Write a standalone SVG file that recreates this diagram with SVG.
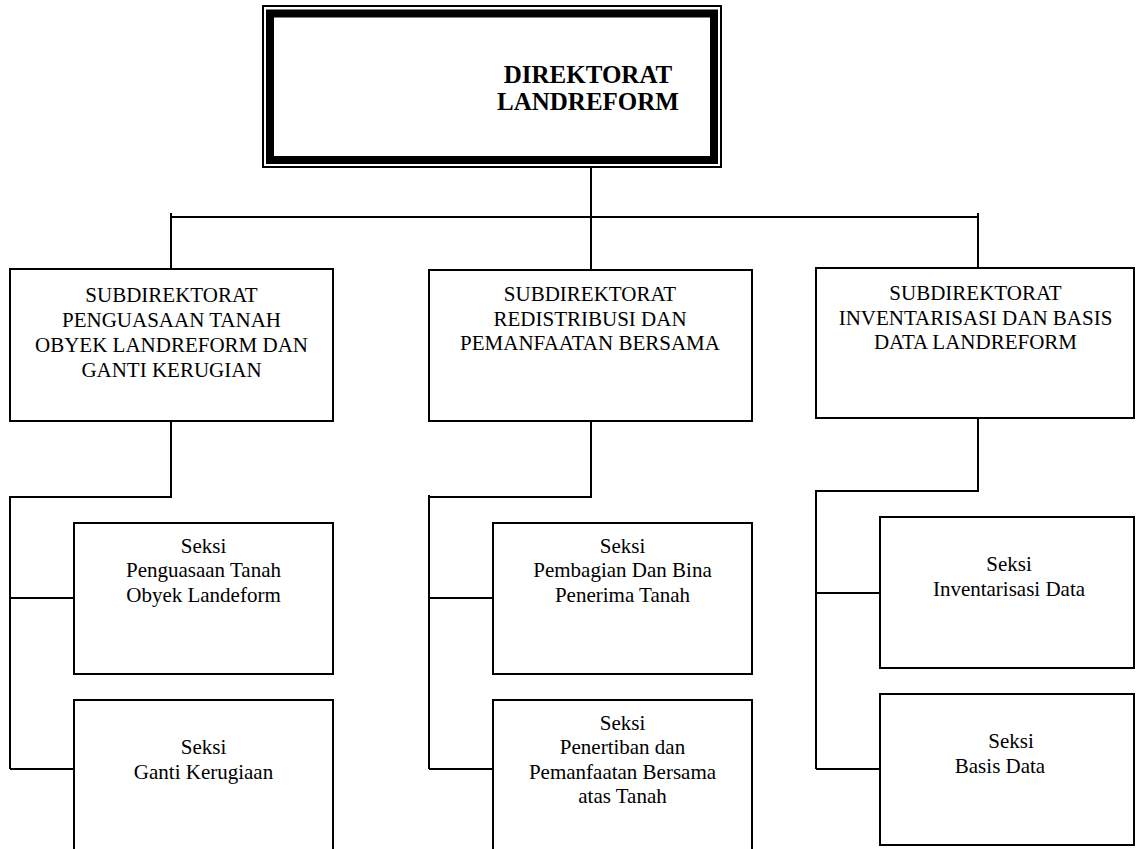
<svg xmlns="http://www.w3.org/2000/svg" width="1138" height="849" viewBox="0 0 1138 849">
<style>
.box{fill:#fff;stroke:#000;stroke-width:2}
.ln{fill:none;stroke:#000;stroke-width:2}
.t{font-family:"Liberation Serif","Times New Roman",serif;font-size:21px;fill:#000;text-anchor:middle}
.tb{font-family:"Liberation Serif","Times New Roman",serif;font-size:25px;font-weight:bold;fill:#000;text-anchor:middle}
</style>
<rect width="1138" height="849" fill="#fff"/>
<g id="connectors">
<path class="ln" d="M591 167 V270"/>
<path class="ln" d="M171 217 H978 M171 213 V269 M978 213 V268"/>
<path class="ln" d="M171 421 V497 H10 V769 M10 598 H74 M10 769 H74"/>
<path class="ln" d="M591 421 V497 H429 M429 495 V769 M429 598 H493 M429 769 H493"/>
<path class="ln" d="M978 418 V491 H816 V769 M816 593 H880 M816 769 H880"/>
</g>
<g id="direktorat">
<rect x="263" y="6" width="458" height="161" fill="#fff" stroke="#000" stroke-width="2"/>
<rect x="270" y="13.5" width="444" height="146.5" fill="#fff" stroke="#000" stroke-width="8"/>
<text class="tb" x="588" y="83">DIREKTORAT</text>
<text class="tb" x="588" y="110">LANDREFORM</text>
</g>
<g id="subdir1">
<rect class="box" x="10" y="269" width="323" height="152"/>
<text class="t" x="171.5" y="302">SUBDIREKTORAT</text>
<text class="t" x="171.5" y="327">PENGUASAAN TANAH</text>
<text class="t" x="171.5" y="352">OBYEK LANDREFORM DAN</text>
<text class="t" x="171.5" y="377">GANTI KERUGIAN</text>
</g>
<g id="subdir2">
<rect class="box" x="429" y="270" width="323" height="151"/>
<text class="t" x="590" y="301">SUBDIREKTORAT</text>
<text class="t" x="590" y="325.5">REDISTRIBUSI DAN</text>
<text class="t" x="590" y="350">PEMANFAATAN BERSAMA</text>
</g>
<g id="subdir3">
<rect class="box" x="816" y="268" width="318" height="150"/>
<text class="t" x="975.5" y="300">SUBDIREKTORAT</text>
<text class="t" x="975.5" y="324.5">INVENTARISASI DAN BASIS</text>
<text class="t" x="975.5" y="349">DATA LANDREFORM</text>
</g>
<g id="seksi1a">
<rect class="box" x="74" y="523" width="259" height="151"/>
<text class="t" x="203.5" y="553">Seksi</text>
<text class="t" x="203.5" y="577">Penguasaan Tanah</text>
<text class="t" x="203.5" y="601.5">Obyek Landeform</text>
</g>
<g id="seksi1b">
<rect class="box" x="74" y="700" width="259" height="160"/>
<text class="t" x="203.5" y="754">Seksi</text>
<text class="t" x="203.5" y="779">Ganti Kerugiaan</text>
</g>
<g id="seksi2a">
<rect class="box" x="493" y="523" width="259" height="151"/>
<text class="t" x="622.5" y="553">Seksi</text>
<text class="t" x="622.5" y="577">Pembagian Dan Bina</text>
<text class="t" x="622.5" y="601.5">Penerima Tanah</text>
</g>
<g id="seksi2b">
<rect class="box" x="493" y="700" width="259" height="160"/>
<text class="t" x="622.5" y="730">Seksi</text>
<text class="t" x="622.5" y="754">Penertiban dan</text>
<text class="t" x="622.5" y="779">Pemanfaatan Bersama</text>
<text class="t" x="622.5" y="803">atas Tanah</text>
</g>
<g id="seksi3a">
<rect class="box" x="880" y="517" width="254" height="151"/>
<text class="t" x="1009" y="571">Seksi</text>
<text class="t" x="1009" y="596">Inventarisasi Data</text>
</g>
<g id="seksi3b">
<rect class="box" x="880" y="694" width="254" height="151"/>
<text class="t" x="1011" y="748">Seksi</text>
<text class="t" x="1000" y="773">Basis Data</text>
</g>
</svg>
